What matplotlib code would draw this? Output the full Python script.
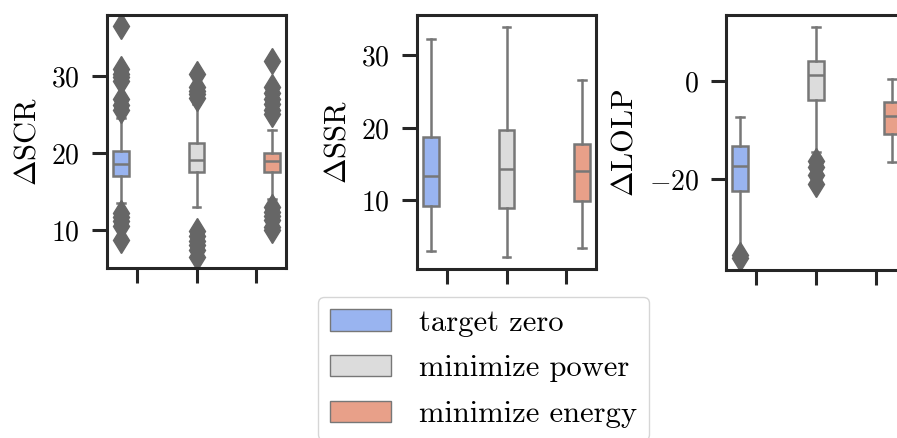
import matplotlib
matplotlib.use("Agg")
import matplotlib.pyplot as plt
from matplotlib.patches import Patch

plt.rcParams["font.family"] = "serif"
plt.rcParams["font.serif"] = ["cmr10"]
plt.rcParams["mathtext.fontset"] = "cm"
plt.rcParams["axes.formatter.use_mathtext"] = True

strategies = ["target zero", "minimize power", "minimize energy"]
colors = ["#99b4f0", "#dcdcdc", "#e8a089"]

# box summaries per metric: median, q1, q3, lower/upper whisker, outliers
scr_med = [18.6, 19.1, 19.0]
scr_q1 = [17.0, 17.5, 17.6]
scr_q3 = [20.3, 21.3, 20.0]
scr_lo = [13.5, 13.0, 14.0]
scr_hi = [24.5, 26.4, 23.0]
scr_out = [
    [36.4, 30.9, 30.3, 29.8, 29.3, 27.0, 26.2, 25.6, 12.2, 11.7, 11.2, 10.6, 8.8],
    [30.3, 28.6, 28.0, 27.6, 27.1, 9.9, 9.2, 8.6, 8.1, 7.4, 6.6],
    [31.9, 28.6, 27.8, 27.0, 26.4, 25.6, 25.0, 13.0, 12.4, 11.9, 11.3, 10.4, 10.0],
]

ssr_med = [13.4, 14.3, 14.0]
ssr_q1 = [9.2, 8.9, 9.9]
ssr_q3 = [18.8, 19.7, 17.8]
ssr_lo = [3.0, 2.1, 3.4]
ssr_hi = [32.3, 34.0, 26.6]
ssr_out = [[], [], []]

lolp_med = [-17.3, 1.2, -7.0]
lolp_q1 = [-22.4, -3.9, -10.7]
lolp_q3 = [-13.2, 4.2, -4.2]
lolp_lo = [-34.7, -14.5, -16.4]
lolp_hi = [-7.3, 11.2, 0.5]
lolp_out = [[-35.6, -36.2], [-16.3, -17.6, -19.2, -21.0], []]

metrics = [
    (r"$\Delta$SCR", scr_med, scr_q1, scr_q3, scr_lo, scr_hi, scr_out),
    (r"$\Delta$SSR", ssr_med, ssr_q1, ssr_q3, ssr_lo, ssr_hi, ssr_out),
    (r"$\Delta$LOLP", lolp_med, lolp_q1, lolp_q3, lolp_lo, lolp_hi, lolp_out),
]

W, H = 897, 438
fig = plt.figure(figsize=(W / 100, H / 100), dpi=100)

# axes boxes in pixels: left, right, top, bottom
frames = [(107, 286, 15, 268), (417, 596, 15, 269), (726, 906, 15, 270)]

line_col = "#777777"
spine_col = "#262626"
hue_w = 0.8 / 3
offsets = [-hue_w, 0.0, hue_w]

for (label, med, q1, q3, lo, hi, out), (l, r, t, b) in zip(metrics, frames):
    ax = fig.add_axes([l / W, 1 - b / H, (r - l) / W, (b - t) / H])
    stats = []
    for i in range(3):
        stats.append(dict(med=med[i], q1=q1[i], q3=q3[i],
                          whislo=lo[i], whishi=hi[i], fliers=out[i]))
    pos = [i + offsets[i] for i in range(3)]
    bp = ax.bxp(stats, positions=pos, widths=hue_w * 0.98, patch_artist=True,
                manage_ticks=False,
                boxprops=dict(edgecolor=line_col, linewidth=1.8),
                medianprops=dict(color=line_col, linewidth=1.8),
                whiskerprops=dict(color=line_col, linewidth=1.8),
                capprops=dict(color=line_col, linewidth=1.8),
                flierprops=dict(marker="d", markersize=13, markerfacecolor="#666666",
                                markeredgecolor="#666666", linestyle="none"))
    for patch, c in zip(bp["boxes"], colors):
        patch.set_facecolor(c)
    ax.set_xlim(-0.5, 2.5)
    ax.margins(y=0.05)
    ax.set_xticks([0, 1, 2])
    ax.set_xticklabels([])
    ax.set_ylabel(label, fontsize=22, labelpad=7)
    ax.tick_params(axis="both", length=11, width=2.2, color=spine_col,
                   labelsize=20, pad=8.5)
    for s in ax.spines.values():
        s.set_linewidth(2.2)
        s.set_color(spine_col)

handles = [Patch(facecolor=c, edgecolor=line_col, linewidth=1) for c in colors]
fig.legend(handles, strategies, loc="upper left",
           bbox_to_anchor=(318 / W, 1 - 297 / H), borderaxespad=0,
           fontsize=22, frameon=True, edgecolor="#cccccc",
           labelspacing=0.6, handletextpad=0.9)

fig.savefig("out.png", dpi=100)
